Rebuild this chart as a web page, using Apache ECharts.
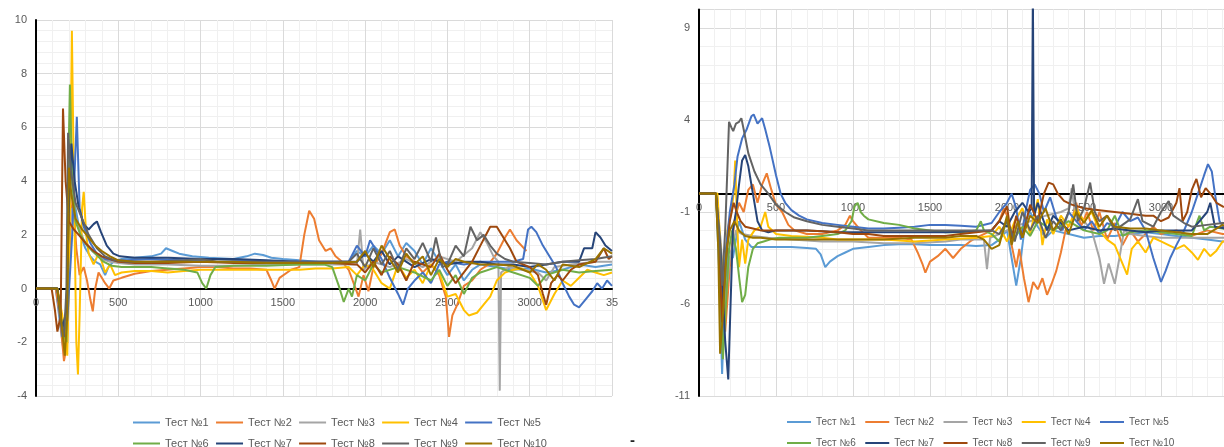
<!DOCTYPE html>
<html>
<head>
<meta charset="utf-8">
<script src="https://cdn.jsdelivr.net/npm/echarts@6/dist/echarts.min.js"></script>
<style>html,body{margin:0;padding:0;background:#fff}#c{width:1224px;height:447px}</style>
</head>
<body>
<div id="c"></div>
<script>
const seriesNames = ['Тест №1','Тест №2','Тест №3','Тест №4','Тест №5','Тест №6','Тест №7','Тест №8','Тест №9','Тест №10'];

// LEFT chart series: [x, y]
const L1 = [[0,0],[120,0],[150,-1.5],[165,-2.2],[185,-1],[200,3.5],[215,4.2],[240,3],[270,2],[300,1.5],[330,1.2],[360,1.0],[390,0.9],[420,0.5],[440,0.8],[470,1.0],[520,1.1],[600,1.15],[700,1.2],[760,1.3],[790,1.5],[830,1.4],[870,1.3],[950,1.2],[1050,1.15],[1200,1.1],[1280,1.2],[1330,1.3],[1380,1.25],[1430,1.15],[1500,1.1],[1600,1.05],[1700,1.0],[1800,0.95],[1900,1.0],[1950,1.4],[2000,1.2],[2050,1.6],[2100,1.3],[2150,1.8],[2200,1.2],[2250,1.7],[2300,1.4],[2350,0.9],[2400,1.5],[2450,1.0],[2500,0.5],[2550,0.9],[2600,0.3],[2650,0.7],[2700,0.9],[2800,0.8],[2900,0.7],[3000,0.75],[3100,0.6],[3200,0.7],[3300,0.9],[3400,0.8],[3500,0.9]];
const L2 = [[0,0],[120,0],[145,-1],[170,-2.7],[190,-2.0],[210,2.5],[225,3.5],[245,1.5],[265,0.5],[290,0.8],[310,0.3],[330,-0.4],[345,-0.85],[360,0.0],[380,0.6],[400,0.4],[420,0.2],[445,0.0],[470,0.3],[520,0.4],[600,0.55],[700,0.65],[800,0.7],[900,0.75],[1000,0.8],[1100,0.8],[1200,0.75],[1300,0.75],[1400,0.7],[1430,0.3],[1450,0.0],[1480,0.4],[1550,0.7],[1600,0.8],[1630,2.0],[1660,2.9],[1690,2.6],[1720,1.8],[1760,1.4],[1790,1.5],[1820,1.2],[1860,1.0],[1900,0.7],[1930,0.2],[1960,-0.3],[1990,0.5],[2020,-0.1],[2050,0.8],[2100,1.3],[2150,2.1],[2180,2.2],[2210,1.6],[2250,1.2],[2300,1.0],[2350,0.6],[2400,0.9],[2450,0.5],[2490,-0.3],[2510,-1.8],[2530,-1.0],[2560,-0.6],[2600,0.1],[2650,0.3],[2700,0.7],[2750,0.9],[2800,1.3],[2850,1.9],[2880,2.2],[2920,1.8],[2950,1.6],[2980,1.4]];
const L3 = [[0,0],[130,0],[160,-1.5],[180,-2],[200,2],[220,3],[250,2.5],[290,1.8],[340,1.4],[400,1.1],[450,1.0],[500,0.95],[600,0.9],[800,0.9],[1000,0.85],[1200,0.85],[1400,0.9],[1600,0.9],[1800,0.9],[1950,0.9],[1970,2.2],[1990,0.7],[2050,1.0],[2150,0.8],[2250,1.1],[2350,0.8],[2450,1.2],[2550,1.0],[2650,1.5],[2700,2.1],[2740,1.7],[2780,1.2],[2810,1.0],[2818,-3.8],[2826,0.6],[2870,0.8],[2950,0.7],[3050,0.6],[3100,0.3],[3150,0.8],[3250,0.9],[3400,1.0],[3500,1.0]];
const L4 = [[0,0],[130,0],[160,-1],[190,-2.5],[205,2],[218,9.6],[230,4],[245,-2],[255,-3.2],[265,-1],[280,3.0],[290,3.6],[305,2.0],[320,1.3],[350,0.9],[380,1.3],[400,1.0],[420,0.6],[450,0.9],[480,0.5],[520,0.6],[600,0.65],[700,0.65],[800,0.6],[900,0.65],[1000,0.7],[1100,0.7],[1200,0.7],[1400,0.7],[1600,0.7],[1700,0.75],[1800,0.75],[1900,0.8],[1950,0.5],[2000,0.9],[2050,0.7],[2100,0.2],[2150,0.0],[2200,0.9],[2250,0.4],[2300,0.7],[2350,0.2],[2400,0.9],[2450,0.6],[2500,-0.3],[2550,-0.2],[2600,-0.8],[2630,-1.0],[2680,-0.9],[2720,-0.6],[2760,-0.3],[2800,0.3],[2850,0.6],[2900,0.7],[2950,0.75],[3000,0.6],[3050,0.1],[3100,-0.8],[3150,-0.2],[3200,0.3],[3250,0.1],[3300,0.4],[3350,0.7],[3400,0.6],[3450,0.5],[3500,0.6]];
const L5 = [[0,0],[130,0],[160,-1.8],[190,-1.2],[220,2],[248,6.4],[265,3],[290,2.3],[330,1.7],[370,1.3],[420,1.1],[470,1.05],[550,1.05],[700,1.1],[900,1.05],[1100,1.0],[1300,1.05],[1500,1.0],[1700,1.0],[1900,1.0],[1950,1.6],[2000,1.2],[2030,1.8],[2070,1.4],[2100,1.1],[2150,0.4],[2200,-0.2],[2230,-0.6],[2260,0.0],[2300,0.3],[2350,0.6],[2400,0.2],[2450,0.9],[2500,1.0],[2600,0.9],[2700,1.0],[2800,1.0],[2900,1.0],[2960,1.1],[2990,2.2],[3010,2.3],[3040,2.1],[3080,1.6],[3120,1.2],[3160,0.8],[3200,0.2],[3240,-0.3],[3270,-0.6],[3300,-0.7],[3340,-0.4],[3380,-0.1],[3410,0.2],[3440,0.0],[3470,0.3],[3500,0.1]];
const L6 = [[0,0],[130,0],[160,-1.5],[185,-2],[195,4],[206,7.6],[220,4],[240,2.5],[270,2.0],[310,1.6],[360,1.3],[410,1.0],[460,0.85],[520,0.8],[600,0.8],[700,0.8],[800,0.75],[900,0.7],[980,0.6],[1010,0.2],[1035,0.0],[1060,0.5],[1090,0.8],[1200,0.85],[1400,0.85],[1600,0.9],[1750,0.9],[1800,0.8],[1840,0.1],[1870,-0.5],[1900,0.0],[1920,-0.3],[1950,0.5],[2000,0.3],[2050,0.9],[2100,0.6],[2200,0.8],[2300,0.6],[2400,0.3],[2450,0.7],[2500,0.1],[2550,0.5],[2600,-0.2],[2650,0.4],[2700,0.6],[2800,0.8],[2900,0.6],[3000,0.4],[3050,0.1],[3100,0.5],[3200,0.7],[3300,0.6],[3400,0.65],[3500,0.7]];
const L7 = [[0,0],[130,0],[160,-1.5],[185,-0.8],[200,3],[215,5.4],[235,4],[260,3],[290,2.4],[320,2.2],[350,2.4],[370,2.5],[395,2.1],[430,1.6],[470,1.3],[510,1.2],[600,1.15],[800,1.15],[1000,1.1],[1200,1.1],[1400,1.05],[1600,1.0],[1800,1.0],[1950,1.0],[2000,1.3],[2050,1.0],[2100,1.4],[2150,0.9],[2200,1.2],[2300,0.8],[2400,1.1],[2500,0.9],[2600,1.0],[2700,1.0],[2800,0.9],[2900,0.9],[3000,0.8],[3100,0.9],[3200,1.0],[3300,1.0],[3330,1.5],[3380,1.5],[3400,2.1],[3430,1.9],[3460,1.6],[3500,1.4]];
const L8 = [[0,0],[95,0],[115,-0.8],[130,-1.6],[150,-1.0],[164,6.7],[180,4.0],[200,2.5],[230,2.2],[260,2.0],[300,1.7],[350,1.4],[400,1.2],[450,1.1],[500,1.0],[600,0.95],[800,0.95],[1000,1.0],[1200,0.95],[1400,0.95],[1600,0.95],[1800,0.95],[1950,0.9],[2000,0.6],[2050,1.0],[2100,0.5],[2150,1.2],[2200,0.9],[2250,0.3],[2300,1.0],[2400,0.8],[2450,1.3],[2500,0.7],[2550,0.2],[2600,0.6],[2650,1.0],[2700,1.6],[2760,2.3],[2800,2.3],[2840,1.9],[2880,1.5],[2920,1.0],[2960,0.9],[3000,0.8],[3050,0.5],[3080,-0.2],[3100,-0.6],[3130,0.2],[3170,0.5],[3200,0.3],[3250,0.7],[3300,0.9],[3400,1.0],[3450,1.5],[3480,1.1],[3500,1.2]];
const L9 = [[0,0],[130,0],[150,-1.2],[170,-1.8],[185,0],[195,5.8],[210,4.5],[240,3.2],[280,2.6],[320,2.0],[370,1.5],[420,1.2],[480,1.05],[550,1.0],[700,1.0],[900,1.05],[1000,1.1],[1100,1.0],[1300,1.0],[1500,1.0],[1700,1.0],[1900,1.0],[1950,1.3],[2000,0.8],[2050,1.5],[2100,0.9],[2150,1.4],[2200,0.7],[2250,1.5],[2300,1.1],[2350,1.7],[2400,1.0],[2430,1.9],[2470,0.8],[2500,0.9],[2550,1.6],[2600,1.2],[2640,2.3],[2680,1.8],[2720,2.0],[2760,1.6],[2800,1.3],[2850,1.1],[2900,1.0],[3000,0.95],[3100,0.9],[3200,1.0],[3300,1.05],[3400,1.1],[3500,1.2]];
const L10 = [[0,0],[130,0],[150,-1],[175,-2.5],[190,-1],[200,4.5],[215,3.5],[240,2.6],[280,2.2],[320,1.9],[360,1.6],[400,1.4],[450,1.2],[500,1.05],[600,1.0],[800,1.0],[1000,1.0],[1200,1.0],[1400,0.95],[1600,0.95],[1800,0.95],[1950,1.0],[2000,1.4],[2050,0.8],[2100,1.6],[2150,1.1],[2200,0.6],[2250,1.3],[2300,0.9],[2350,1.2],[2400,0.5],[2450,1.1],[2500,0.8],[2550,1.1],[2600,1.0],[2700,0.9],[2800,0.9],[2900,0.85],[3000,0.6],[3050,0.9],[3100,0.7],[3150,0.3],[3200,0.9],[3300,0.8],[3400,1.1],[3450,1.5],[3500,1.3]];

// RIGHT chart series: [x, y]
const R1 = [[0,0],[110,0],[130,-4],[150,-9.8],[170,-5],[190,-3],[220,-3.5],[260,-1.5],[280,-2.0],[300,-2.5],[340,-2.9],[400,-2.9],[500,-2.9],[600,-2.9],[700,-2.95],[760,-3.0],[790,-3.3],[820,-4.0],[850,-3.7],[900,-3.4],[950,-3.2],[1000,-3.0],[1100,-2.9],[1200,-2.8],[1300,-2.75],[1400,-2.75],[1500,-2.8],[1600,-2.8],[1700,-2.8],[1800,-2.85],[1900,-2.8],[1950,-2.5],[2000,-2.0],[2030,-3.5],[2060,-5.0],[2090,-3.5],[2120,-1.5],[2150,-1.0],[2200,-1.8],[2250,-2.4],[2300,-2.0],[2400,-2.2],[2500,-2.4],[2600,-2.3],[2700,-2.3],[2800,-2.2],[2900,-2.1],[3000,-2.2],[3100,-2.3],[3200,-2.4],[3300,-2.5],[3400,-2.6],[3500,-2.6]];
const R2 = [[0,0],[110,0],[140,-3],[170,-7.5],[200,-4],[230,-1.5],[260,-0.5],[290,-1.0],[320,0.2],[350,0.5],[380,-0.5],[410,0.5],[440,1.1],[470,0.2],[500,-0.6],[540,-1.0],[580,-1.7],[620,-2.0],[700,-2.2],[800,-2.2],[900,-2.0],[950,-1.7],[980,-1.2],[1000,-1.5],[1050,-2.0],[1100,-2.4],[1200,-2.4],[1300,-2.4],[1380,-2.5],[1420,-3.2],[1450,-3.8],[1470,-4.3],[1500,-3.7],[1550,-3.4],[1600,-3.0],[1650,-3.5],[1700,-3.0],[1760,-2.6],[1800,-2.4],[1850,-2.2],[1900,-2.0],[1950,-1.5],[1980,-0.8],[2000,-1.2],[2030,-2.8],[2060,-4.0],[2080,-3.0],[2110,-4.6],[2140,-5.9],[2170,-4.8],[2200,-5.2],[2230,-4.6],[2260,-5.5],[2290,-4.9],[2320,-4.2],[2350,-3.2],[2380,-2.0],[2420,-1.5],[2450,-0.5],[2480,-1.8],[2520,-1.0],[2560,-2.0],[2600,-1.0],[2650,-2.5],[2700,-1.6],[2750,-2.8],[2800,-2.0],[2850,-2.6],[2900,-2.2],[2950,-1.8],[3000,-2.2],[3100,-2.0],[3200,-2.3],[3300,-2.0],[3400,-2.2],[3500,-2.1]];
const R3 = [[0,0],[110,0],[140,-2.5],[170,-6],[200,-3.5],[240,-2],[280,-2.2],[350,-2.3],[450,-2.4],[600,-2.5],[800,-2.6],[1000,-2.6],[1200,-2.7],[1400,-2.7],[1600,-2.6],[1700,-2.5],[1850,-2.5],[1870,-4.1],[1890,-2.4],[1950,-2.2],[2050,-1.8],[2150,-1.5],[2250,-1.2],[2350,-1.0],[2400,-0.8],[2420,0.3],[2440,-1.0],[2500,-1.5],[2550,-2.0],[2600,-3.5],[2630,-4.9],[2660,-3.8],[2700,-4.9],[2730,-3.5],[2760,-2.0],[2800,-2.2],[2900,-2.3],[3000,-2.4],[3100,-2.4],[3200,-2.4],[3300,-2.4],[3500,-2.4]];
const R4 = [[0,0],[120,0],[140,-3],[160,-5],[185,-2],[210,-1],[225,0],[235,1.8],[245,-1],[260,-4],[280,-2.5],[300,-3.8],[320,-2.5],[360,-2.0],[400,-1.8],[430,-1.0],[450,-1.8],[500,-2.2],[600,-2.3],[700,-2.35],[800,-2.4],[900,-2.5],[1000,-2.5],[1100,-2.5],[1200,-2.5],[1400,-2.6],[1600,-2.5],[1800,-2.4],[1900,-2.3],[1950,-1.8],[2000,-2.6],[2050,-1.5],[2100,-0.8],[2150,-2.2],[2200,-0.3],[2230,-2.8],[2260,-1.4],[2300,-2.2],[2350,-1.2],[2400,-1.8],[2450,-0.8],[2500,-1.5],[2550,-1.0],[2600,-2.0],[2650,-2.5],[2700,-2.8],[2750,-3.8],[2780,-4.4],[2810,-3.0],[2850,-2.6],[2900,-3.2],[2950,-2.4],[3000,-2.6],[3050,-2.8],[3100,-3.0],[3150,-2.8],[3200,-3.2],[3240,-3.6],[3280,-3.0],[3320,-3.4],[3360,-3.1],[3400,-2.6],[3450,-2.6],[3500,-2.5]];
const R5 = [[0,0],[110,0],[130,-3],[150,-6],[175,-3],[200,-1],[230,0.5],[250,2.0],[280,3.0],[310,3.5],[340,4.2],[355,4.3],[380,3.8],[410,4.1],[430,3.5],[460,2.5],[500,1.0],[530,0.0],[560,-0.5],[600,-0.9],[650,-1.2],[700,-1.4],[800,-1.6],[900,-1.7],[1000,-1.8],[1100,-1.9],[1200,-1.9],[1300,-1.85],[1400,-1.8],[1500,-1.7],[1600,-1.7],[1700,-1.75],[1800,-1.8],[1900,-1.6],[1950,-1.0],[2000,-0.5],[2030,0.0],[2060,-0.8],[2090,-2.5],[2120,-1.0],[2150,0.2],[2180,0.5],[2210,0.0],[2240,-1.0],[2280,-0.2],[2320,-1.3],[2360,-2.0],[2400,-1.0],[2450,-1.5],[2500,-2.0],[2550,-1.5],[2600,-2.2],[2650,-1.6],[2700,-1.8],[2750,-1.0],[2800,-1.5],[2850,-1.3],[2900,-2.0],[2950,-3.5],[3000,-4.8],[3030,-4.2],[3060,-3.5],[3100,-2.8],[3150,-2.0],[3200,-1.0],[3240,0.0],[3280,1.0],[3305,1.6],[3330,1.2],[3350,0.0],[3380,-1.5],[3420,-2.0],[3460,-1.8],[3500,-1.7]];
const R6 = [[0,0],[110,0],[130,-3],[155,-9],[175,-6],[195,-3],[215,-2],[240,-3],[260,-4.5],[280,-5.9],[300,-5.5],[320,-4.0],[350,-3.0],[380,-2.7],[420,-2.6],[460,-2.5],[520,-2.4],[600,-2.4],[700,-2.4],[800,-2.3],[900,-2.2],[950,-2.0],[990,-1.5],[1010,-0.7],[1030,-0.5],[1050,-1.0],[1070,-1.2],[1100,-1.4],[1200,-1.6],[1300,-1.7],[1400,-1.9],[1500,-2.0],[1600,-2.1],[1700,-2.1],[1800,-2.0],[1830,-1.5],[1850,-2.0],[1900,-2.2],[1950,-2.6],[2000,-1.5],[2050,-2.4],[2100,-1.8],[2150,-2.3],[2200,-1.5],[2300,-2.0],[2400,-1.5],[2500,-2.0],[2600,-2.2],[2650,-2.0],[2700,-1.2],[2750,-2.3],[2800,-2.1],[2900,-2.0],[3000,-2.1],[3100,-2.2],[3200,-2.3],[3250,-1.2],[3280,-2.0],[3320,-1.8],[3400,-1.9],[3500,-2.0]];
const R7 = [[0,0],[110,0],[140,-3],[170,-8],[190,-10.1],[205,-6],[220,-2],[240,-1],[260,0.5],[280,1.8],[300,2.1],[320,1.5],[350,0],[380,-1.5],[410,-2.0],[450,-2.1],[500,-2.0],[600,-2.0],[700,-2.0],[800,-2.05],[900,-2.1],[1000,-2.1],[1200,-2.1],[1400,-2.1],[1600,-2.1],[1800,-2.05],[1900,-2.0],[1950,-1.5],[2000,-1.8],[2050,-1.0],[2100,-0.5],[2140,-1.0],[2160,-0.8],[2168,11],[2176,-1.2],[2200,-0.5],[2230,-1.3],[2260,-2.0],[2300,-1.2],[2350,-1.6],[2400,-2.0],[2500,-1.8],[2600,-2.0],[2700,-1.9],[2800,-2.0],[2900,-2.1],[3000,-2.0],[3100,-2.0],[3200,-2.0],[3300,-1.0],[3320,-0.5],[3350,-1.8],[3500,-2.0]];
const R8 = [[0,0],[110,0],[130,-3],[150,-7],[170,-4],[200,-1.5],[225,-0.5],[245,-1.0],[270,-1.5],[300,-1.8],[350,-1.9],[400,-2.0],[500,-2.0],[600,-2.0],[700,-2.0],[800,-2.05],[900,-2.1],[1000,-2.2],[1100,-2.2],[1200,-2.3],[1300,-2.3],[1400,-2.3],[1500,-2.3],[1600,-2.3],[1700,-2.2],[1800,-2.1],[1900,-2.0],[1950,-1.5],[2000,-0.7],[2030,-2.5],[2060,-1.2],[2100,-2.4],[2150,-0.6],[2200,-1.5],[2240,0.0],[2270,0.6],[2300,0.5],[2330,0.0],[2370,-0.4],[2420,-0.6],[2500,-0.8],[2600,-0.9],[2700,-1.0],[2800,-1.1],[2900,-1.2],[2950,-1.2],[3000,-1.5],[3050,-1.3],[3100,-0.5],[3120,0.3],[3140,-1.5],[3170,-1.0],[3200,0.2],[3230,0.8],[3260,-0.2],[3290,0.3],[3330,-0.1],[3360,-0.5],[3400,-0.7],[3450,-0.8],[3500,-0.9]];
const R9 = [[0,0],[110,0],[130,-2],[150,-5],[170,-2],[185,1.5],[195,3.9],[210,3.6],[222,3.4],[240,3.8],[260,3.9],[275,4.1],[290,3.5],[320,2.2],[360,1.2],[400,0.5],[450,0.0],[500,-0.6],[560,-1.0],[620,-1.3],[700,-1.5],[800,-1.7],[900,-1.8],[1000,-1.9],[1100,-2.0],[1200,-2.0],[1300,-2.0],[1400,-2.0],[1500,-2.0],[1600,-2.0],[1700,-2.0],[1800,-2.0],[1900,-2.0],[1950,-2.2],[2000,-1.5],[2050,-2.6],[2100,-1.0],[2150,-2.0],[2200,-1.2],[2250,-2.4],[2300,-1.5],[2350,-2.0],[2400,-1.0],[2430,0.5],[2460,-1.5],[2500,-0.8],[2540,0.6],[2570,-1.0],[2600,-1.5],[2650,-1.2],[2700,-2.0],[2800,-1.4],[2850,-0.3],[2880,-1.5],[2950,-1.8],[3000,-1.0],[3050,-0.4],[3080,-1.2],[3150,-1.6],[3200,-1.8],[3300,-1.7],[3400,-1.6],[3500,-1.6]];
const R10 = [[0,0],[110,0],[125,-3],[137,-8.7],[160,-6],[180,-3],[200,-2],[230,-1.5],[260,-2.0],[300,-2.3],[350,-2.4],[400,-2.4],[500,-2.5],[600,-2.5],[700,-2.5],[800,-2.5],[900,-2.5],[1000,-2.5],[1200,-2.5],[1400,-2.4],[1600,-2.4],[1700,-2.3],[1800,-2.3],[1850,-2.5],[1900,-3.0],[1950,-2.8],[2000,-1.2],[2030,-2.8],[2070,-1.5],[2100,-2.4],[2150,-1.2],[2200,-1.6],[2250,-0.8],[2300,-2.0],[2350,-1.4],[2400,-2.2],[2450,-1.0],[2500,-1.6],[2550,-0.9],[2600,-1.8],[2650,-1.2],[2700,-1.8],[2800,-1.9],[2900,-1.9],[3000,-2.0],[3100,-2.1],[3200,-2.2],[3300,-2.2],[3400,-1.7],[3450,-1.9],[3500,-2.0]];

const leftData = [L1,L2,L3,L4,L5,L6,L7,L8,L9,L10];
const rightData = [R1,R2,R3,R4,R5,R6,R7,R8,R9,R10];
const colors = ['#5B9BD5','#ED7D31','#A5A5A5','#FFC000','#4472C4','#70AD47','#264478','#9E480E','#636363','#997300'];

const FONT = '"Liberation Sans", Arial, sans-serif';
const LBL = '#595959';

// grid geometry
const G0 = {left:36, top:20, width:576, height:376};
const G1 = {left:699, top:9.6, width:539, height:386.4};
// offset of the x axis from the grid bottom to the y=0 line
const off0 = -(G0.height * 4 / 14);
const off1 = -(G1.height * 11 / 21);

function xAx(grid, fmt, off){
  return {gridIndex:grid, type:'value', min:0, max:3500, interval:500, offset:off,
    axisLine:{onZero:false, lineStyle:{color:'#000', width:2}},
    axisTick:{show:false},
    axisLabel:{color:LBL, fontSize:11, fontFamily:FONT, margin:9, formatter:fmt, hideOverlap:false},
    splitLine:{show:true, lineStyle:{color:'#DADADA', width:1}},
    minorTick:{show:false, splitNumber:5},
    minorSplitLine:{show:true, lineStyle:{color:'#F0F0F0', width:1}}};
}
function yAx(grid, min, max, interval, minorN){
  return {gridIndex:grid, type:'value', min:min, max:max, interval:interval,
    axisLine:{show:true, onZero:false, lineStyle:{color:'#000', width:2}},
    axisTick:{show:false},
    axisLabel:{color:LBL, fontSize:11, fontFamily:FONT, margin:9, showMaxLabel: grid===0 ? true : false},
    splitLine:{show:true, lineStyle:{color:'#DADADA', width:1}},
    minorTick:{show:false, splitNumber:minorN},
    minorSplitLine:{show:true, lineStyle:{color:'#F0F0F0', width:1}}};
}

const series = [];
leftData.forEach((d,i)=>series.push({name:seriesNames[i], type:'line', xAxisIndex:0, yAxisIndex:0, data:d,
  showSymbol:false, symbol:'none', lineStyle:{width:2, color:colors[i]}, itemStyle:{color:colors[i]}, animation:false}));
rightData.forEach((d,i)=>series.push({name:seriesNames[i], type:'line', xAxisIndex:1, yAxisIndex:1, data:d,
  showSymbol:false, symbol:'none', lineStyle:{width:2, color:colors[i]}, itemStyle:{color:colors[i]}, animation:false}));

function legend(left, top, names, iw, fs, tw, gap){
  return {left:left, top:top, orient:'horizontal', data:names, selectedMode:false, padding:0,
    icon:'rect', itemWidth:iw, itemHeight:2, itemGap:gap,
    textStyle:{color:LBL, fontSize:fs, fontFamily:FONT, width:tw, overflow:'none'}};
}

const chart = echarts.init(document.getElementById('c'), null, {renderer:'canvas'});
chart.setOption({
  backgroundColor:'#fff',
  animation:false,
  grid:[
    Object.assign({outerBoundsMode:'none', containLabel:false}, G0),
    Object.assign({outerBoundsMode:'none', containLabel:false}, G1)
  ],
  xAxis:[ xAx(0, v => v===3500 ? '35' : String(v), off0), xAx(1, v => String(v), off1) ],
  yAxis:[ yAx(0, -4, 10, 2, 5), yAx(1, -11, 10, 5, 5) ],
  legend:[
    legend(133, 417, seriesNames.slice(0,5), 27, 11, 46, 7.3),
    legend(133, 438, seriesNames.slice(5), 27, 11, 46, 7.3),
    legend(787, 417, seriesNames.slice(0,5), 24, 10, 45, 9.5),
    legend(787, 438, seriesNames.slice(5), 24, 10, 45, 9.5)
  ],
  graphic:[{type:'text', left:630, top:433, style:{text:'-', fontSize:15, fontWeight:'bold', fill:'#222', fontFamily:FONT}}],
  series:series
});
</script>
</body>
</html>
